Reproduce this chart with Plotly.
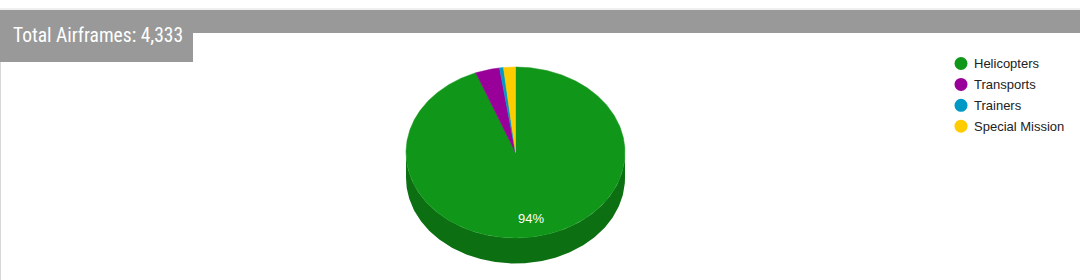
import numpy as np
import plotly.graph_objects as go

# ---- data ----
categories = ["Helicopters", "Transports", "Trainers", "Special Mission"]
values = [4077, 155, 25, 76]
colors = ["#109618", "#990099", "#0099c6", "#ffcc00"]
side_colors = ["#0c7012", "#730073", "#007394", "#bf9900"]
title_text = "Total Airframes: 4,333"

# ---- geometry (pixels) ----
W, H = 1080, 280
cx, cy, rx, ry, depth = 515.5, 152.5, 109.5, 85.5, 25.5
label_k = 0.79


def pt(theta_deg, dy=0.0):
    t = np.radians(theta_deg)
    return cx + rx * np.sin(t), cy - ry * np.cos(t) + dy


total = sum(values)
fractions = [v / total for v in values]
starts = np.cumsum([0] + fractions[:-1]) * 360
ends = np.cumsum(fractions) * 360

fig = go.Figure()

# sides (front half: 90..270 deg)
for s, e, c in zip(starts, ends, side_colors):
    a, b = max(s, 90), min(e, 270)
    if b <= a:
        continue
    th = np.linspace(a, b, 200)
    xt, yt = pt(th)
    xb, yb = pt(th[::-1], depth)
    fig.add_trace(go.Scatter(x=np.r_[xt, xb, xt[0]], y=np.r_[yt, yb, yt[0]],
                             fill="toself", fillcolor=c, mode="lines",
                             line=dict(width=0, color=c), hoverinfo="skip",
                             showlegend=False))

# top faces
for s, e, c, name, v in zip(starts, ends, colors, categories, values):
    th = np.linspace(s, e, max(int((e - s) * 2), 4))
    xs, ys = pt(th)
    fig.add_trace(go.Scatter(x=np.r_[cx, xs, cx], y=np.r_[cy, ys, cy],
                             fill="toself", fillcolor=c, mode="lines",
                             line=dict(width=0.5, color=c), name=name,
                             hoveron="fills", text=f"{name}: {v:,}",
                             hoverinfo="text", showlegend=False))

# percentage label for the large slice
for s, e, f in zip(starts, ends, fractions):
    if f > 0.05:
        mid = (s + e) / 2
        lx, ly = pt(mid)
        lx = cx + (lx - cx) * label_k
        ly = cy + (ly - cy) * label_k
        fig.add_annotation(x=lx, y=ly, text=f"{f*100:.0f}%", showarrow=False,
                           font=dict(family="Liberation Sans, Arial", size=13, color="white"),
                           xanchor="center", yanchor="middle")

# legend (circles + labels)
leg_x, leg_y0, leg_dy = 961, 63.5, 20.9
fig.add_trace(go.Scatter(x=[leg_x] * len(categories),
                         y=[leg_y0 + i * leg_dy for i in range(len(categories))],
                         mode="markers", marker=dict(size=13, color=colors, line=dict(width=0)),
                         hoverinfo="skip", showlegend=False))
for i, name in enumerate(categories):
    fig.add_annotation(x=leg_x + 11, y=leg_y0 + i * leg_dy, text=name, showarrow=False,
                       xanchor="left", yanchor="middle",
                       font=dict(family="Liberation Sans, Arial", size=13, color="#222222"))

# header bar and title box
shapes = [
    dict(type="line", x0=0, x1=W, y0=9, y1=9, line=dict(color="#e0e0e0", width=1)),
    dict(type="rect", x0=0, x1=W, y0=10, y1=33, fillcolor="#999999", line=dict(width=0)),
    dict(type="rect", x0=0, x1=193, y0=10, y1=62, fillcolor="#999999", line=dict(width=0)),
    dict(type="line", x0=0.5, x1=0.5, y0=62, y1=H, line=dict(color="#d8d8d8", width=1)),
]
fig.add_annotation(x=11, y=35.5, text=title_text, showarrow=False, xanchor="left", yanchor="middle",
                   font=dict(family="Roboto Condensed, Roboto, sans-serif", size=19.5, color="white"))

fig.update_layout(
    width=W, height=H, margin=dict(l=0, r=0, t=0, b=0),
    paper_bgcolor="white", plot_bgcolor="white", shapes=shapes,
    xaxis=dict(range=[0, W], visible=False, fixedrange=True),
    yaxis=dict(range=[H, 0], visible=False, fixedrange=True),
    showlegend=False,
)

fig.write_html("out.html")
